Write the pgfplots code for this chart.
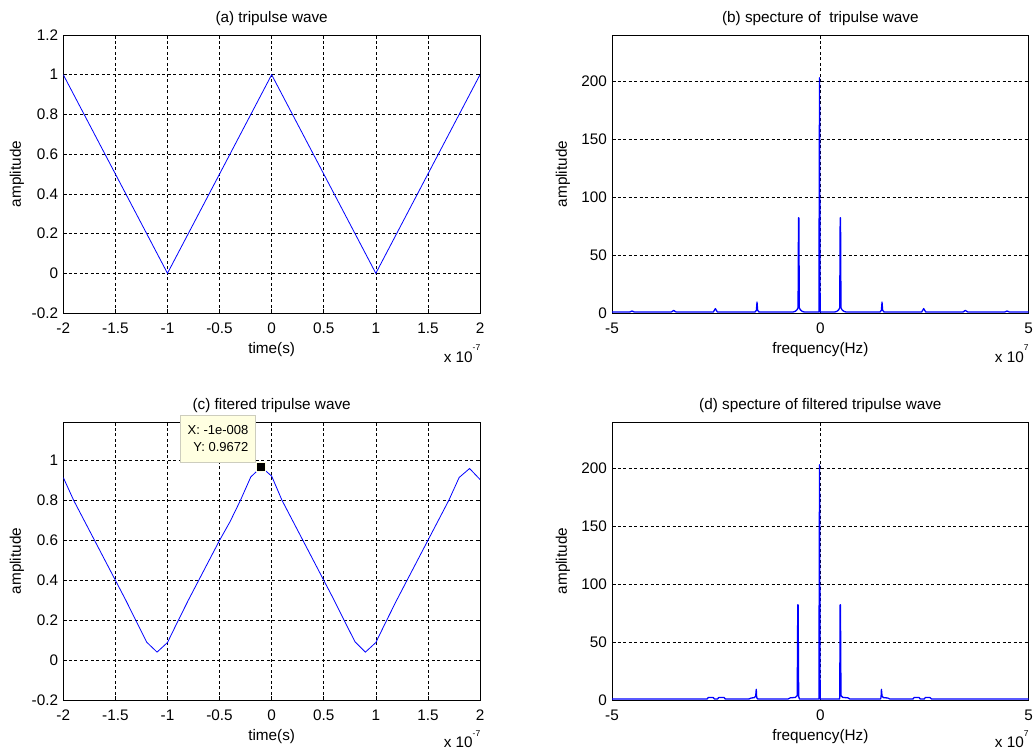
\documentclass[border=0pt]{standalone}
\usepackage{fontspec}
\setmainfont{Liberation Sans}
\usepackage{pgfplots}
\pgfplotsset{compat=1.18}
\definecolor{mblue}{RGB}{0,0,255}
\definecolor{tipfill}{RGB}{255,255,225}
\definecolor{tipedge}{RGB}{205,205,190}
\newcommand{\lf}{\fontsize{15.3bp}{18bp}\selectfont}
\newcommand{\expo}[1]{\raisebox{11.5bp}{\fontsize{8.5bp}{9bp}\selectfont #1}}
\pgfplotsset{
 mat/.style={
  scale only axis, width=416.7bp, height=278bp, anchor=south west,
  axis line style={black, line width=0.8bp},
  tick align=inside, major tick length=4bp,
  every tick/.style={black, line width=0.6bp},
  grid=major,
  major grid style={black, line width=0.5bp, dash pattern=on 3bp off 2.5bp},
  tick label style={font=\lf},
  xticklabel style={anchor=base, yshift=-20.3bp},
  yticklabel style={anchor=east, inner sep=0pt, xshift=-5bp},
  enlargelimits=false,
  clip mode=individual,
 },
 wave/.style={
  xmin=-2, xmax=2, xtick={-2,-1.5,-1,-0.5,0,0.5,1,1.5,2},
  xticklabels={-2,-1.5,-1,-0.5,0,0.5,1,1.5,2},
 },
 spec/.style={
  xmin=-5, xmax=5, xtick={-5,0,5}, xticklabels={-5,0,5},
  ymin=0, ymax=240, ytick={0,50,100,150,200}, yticklabels={0,50,100,150,200},
 },
}
\begin{document}
\begin{tikzpicture}
\useasboundingbox (0,0) rectangle (1033bp,-751bp);

% (a)
\begin{axis}[mat, wave, at={(63.3bp,-313bp)}, ymin=-0.2, ymax=1.2,
  ytick={-0.2,0,0.2,0.4,0.6,0.8,1,1.2}, yticklabels={-0.2,0,0.2,0.4,0.6,0.8,1,1.2}]
\addplot[mblue, line width=0.8bp] coordinates {(-2,1)(-1,0)(0,1)(1,0)(2,1)};
\end{axis}

% (b)
\begin{axis}[mat, spec, at={(612bp,-313bp)}]
\addplot[mblue, line width=1.3bp, line join=round] coordinates {
(-5,0.8)
(-4.58,0.8)(-4.52,1.7)(-4.46,0.8)
(-3.58,0.8)(-3.52,2.2)(-3.46,0.8)
(-2.57,0.8)(-2.52,3.8)(-2.47,0.8)
(-1.57,0.8)(-1.535,2.3)(-1.52,9.4)(-1.505,2.3)(-1.47,0.8)
(-0.66,0.8)(-0.6,1.5)(-0.56,2.8)(-0.535,4.5)(-0.524,82.2)(-0.516,82.2)(-0.505,4.5)(-0.48,2.8)(-0.44,1.5)(-0.38,0.8)
(-0.035,0.8)(-0.02,203)(-0.005,0.8)
(0.34,0.8)(0.40,1.5)(0.44,2.8)(0.465,4.5)(0.476,82.2)(0.484,82.2)(0.495,4.5)(0.52,2.8)(0.56,1.5)(0.62,0.8)
(1.43,0.8)(1.465,2.3)(1.48,9.4)(1.495,2.3)(1.53,0.8)
(2.43,0.8)(2.48,3.8)(2.53,0.8)
(3.42,0.8)(3.48,2.2)(3.54,0.8)
(4.42,0.8)(4.48,1.7)(4.54,0.8)
(5,0.8)};
\end{axis}

% (c)
\begin{axis}[mat, wave, at={(63.3bp,-700bp)}, ymin=-0.2, ymax=1.193,
  ytick={-0.2,0,0.2,0.4,0.6,0.8,1}, yticklabels={-0.2,0,0.2,0.4,0.6,0.8,1}]
\addplot[mblue, line width=0.8bp] coordinates {
(-2.0,0.915)(-1.9,0.80)(-1.8,0.70)(-1.7,0.60)(-1.6,0.50)(-1.5,0.40)(-1.4,0.30)
(-1.3,0.195)(-1.2,0.09)(-1.1,0.04)(-1.0,0.088)(-0.9,0.195)(-0.8,0.30)(-0.7,0.40)
(-0.6,0.50)(-0.5,0.60)(-0.4,0.693)(-0.3,0.80)(-0.2,0.918)(-0.1,0.9672)(0.0,0.922)
(0.1,0.80)(0.2,0.70)(0.3,0.60)(0.4,0.50)(0.5,0.40)(0.6,0.30)(0.7,0.195)(0.8,0.092)
(0.9,0.04)(1.0,0.088)(1.1,0.195)(1.2,0.30)(1.3,0.40)(1.4,0.50)(1.5,0.60)(1.6,0.70)
(1.7,0.80)(1.8,0.915)(1.9,0.96)(2.0,0.905)};
\addplot[only marks, mark=square*, mark size=4.5bp, mark options={fill=black, draw=tipfill, line width=1bp}] coordinates {(-0.1,0.9672)};
\node[draw=tipedge, fill=tipfill, anchor=south east, font=\fontsize{13bp}{16.7bp}\selectfont, align=right, minimum width=75bp, minimum height=46.7bp, inner sep=0pt, xshift=-5.5bp, yshift=4.7bp] at (axis cs:-0.1,0.9672) {X: -1e-008\\Y: 0.9672};
\end{axis}

% (d)
\begin{axis}[mat, spec, at={(612bp,-700bp)}]
\addplot[mblue, line width=1.3bp, line join=round] coordinates {
(-5,0.8)
(-2.72,0.8)(-2.69,2.1)(-2.57,2.1)(-2.54,0.8)
(-2.47,0.8)(-2.44,2.1)(-2.31,2.1)(-2.28,0.8)
(-1.72,0.8)(-1.66,1.7)(-1.58,2.1)(-1.552,3.5)(-1.538,9.2)(-1.528,2)(-1.50,0.8)
(-0.78,0.8)(-0.72,1.9)(-0.60,2.2)(-0.555,3.8)(-0.542,82.2)(-0.534,82.2)(-0.52,3)(-0.50,0.8)
(-0.035,0.8)(-0.02,203)(-0.005,0.8)
(0.46,0.8)(0.466,3)(0.474,82.2)(0.482,82.2)(0.495,3.8)(0.54,2.2)(0.66,1.9)(0.71,0.8)
(1.44,0.8)(1.456,2)(1.466,9.2)(1.48,3.5)(1.51,2.1)(1.62,1.7)(1.67,0.8)
(2.22,0.8)(2.25,2.1)(2.37,2.1)(2.40,0.8)
(2.49,0.8)(2.52,2.1)(2.63,2.1)(2.67,0.8)
(5,0.8)};
\end{axis}

% titles
\node[font=\lf, anchor=base] at (271.65bp,-22bp) {(a) tripulse wave};
\node[font=\lf, anchor=base] at (820.35bp,-22bp) {(b) specture of~ tripulse wave};
\node[font=\lf, anchor=base] at (271.65bp,-409bp) {(c) fitered tripulse wave};
\node[font=\lf, anchor=base] at (820.35bp,-409bp) {(d) specture of filtered tripulse wave};
% x labels
\node[font=\lf, anchor=base] at (271.65bp,-353.7bp) {time(s)};
\node[font=\lf, anchor=base] at (820.35bp,-353.7bp) {frequency(Hz)};
\node[font=\lf, anchor=base] at (271.65bp,-740.5bp) {time(s)};
\node[font=\lf, anchor=base] at (820.35bp,-740.5bp) {frequency(Hz)};
% y labels
\node[font=\lf, rotate=90, anchor=center] at (17bp,-174bp) {amplitude};
\node[font=\lf, rotate=90, anchor=center] at (563bp,-174bp) {amplitude};
\node[font=\lf, rotate=90, anchor=center] at (17bp,-561bp) {amplitude};
\node[font=\lf, rotate=90, anchor=center] at (563bp,-561bp) {amplitude};
% exponents
\node[font=\lf, anchor=base east, inner sep=0pt] at (480.5bp,-362bp) {x 10\expo{-7}};
\node[font=\lf, anchor=base east, inner sep=0pt] at (1028.7bp,-362bp) {x 10\expo{7}};
\node[font=\lf, anchor=base east, inner sep=0pt] at (480.5bp,-747.5bp) {x 10\expo{-7}};
\node[font=\lf, anchor=base east, inner sep=0pt] at (1028.7bp,-747.5bp) {x 10\expo{7}};
\end{tikzpicture}
\end{document}
